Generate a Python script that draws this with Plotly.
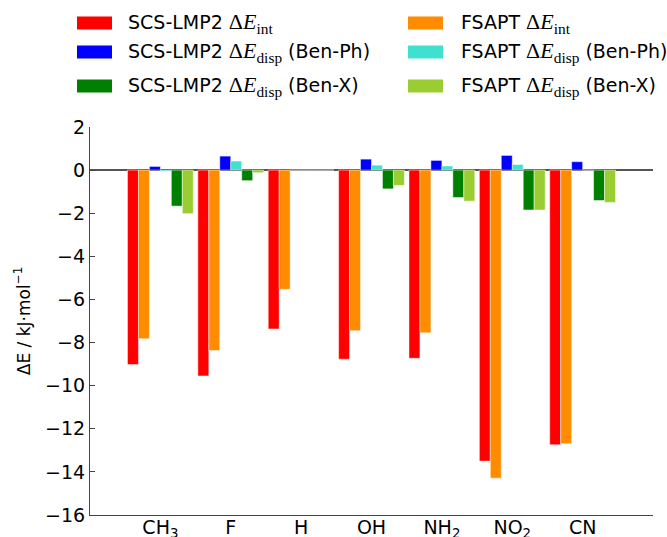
import plotly.graph_objects as go

# Substituents on the benzene ring
substituents = ["CH<sub>3</sub>", "F", "H", "OH", "NH<sub>2</sub>", "NO<sub>2</sub>", "CN"]
positions = [1, 2, 3, 4, 5, 6, 7]

# Interaction energies (kJ/mol)
scs_int = [-9.02, -9.55, -7.37, -8.77, -8.73, -13.50, -12.74]
fsapt_int = [-7.82, -8.37, -5.53, -7.45, -7.55, -14.29, -12.70]
scs_disp_ph = [0.17, 0.65, 0.0, 0.51, 0.45, 0.68, 0.39]
fsapt_disp_ph = [-0.05, 0.42, 0.0, 0.23, 0.19, 0.26, 0.0]
scs_disp_x = [-1.67, -0.49, 0.0, -0.87, -1.27, -1.85, -1.41]
fsapt_disp_x = [-2.02, -0.12, 0.0, -0.71, -1.44, -1.85, -1.50]

y_ticks = [2, 0, -2, -4, -6, -8, -10, -12, -14, -16]

SERIF = "Liberation Serif, DejaVu Serif, serif"
SANS = "DejaVu Sans, sans-serif"


def dE(sub):
    return (f'<span style="font-family:{SERIF};font-size:22px">Δ<i>E</i>'
            f'<sub>{sub}</sub></span>')


series = [
    ("SCS-LMP2 " + dE("int"), scs_int, "#ff0000"),
    ("FSAPT " + dE("int"), fsapt_int, "#ff8c00"),
    ("SCS-LMP2 " + dE("disp") + " (Ben-Ph)", scs_disp_ph, "#0000ff"),
    ("FSAPT " + dE("disp") + " (Ben-Ph)", fsapt_disp_ph, "#40e0d0"),
    ("SCS-LMP2 " + dE("disp") + " (Ben-X)", scs_disp_x, "#008000"),
    ("FSAPT " + dE("disp") + " (Ben-X)", fsapt_disp_x, "#9acd32"),
]

W, H = 667, 537
ML, MR, MT, MB = 90, 14, 127, 22
PW, PH = W - ML - MR, H - MT - MB

fig = go.Figure()
for name, vals, color in series:
    fig.add_trace(go.Bar(
        x=positions, y=vals, name=name,
        marker=dict(color=color, line=dict(color="rgba(255,255,255,0.6)", width=0.8)),
        showlegend=False,
    ))


def px_x(px):
    return (px - ML) / PW


def px_y(py):
    return (H - MB - py) / PH


# Hand-built legend: two columns, three rows
shapes = []
annotations = []
col_swatch = [77, 408]
col_text = [126, 459]
row_y = [23, 52, 86]
for i, (name, vals, color) in enumerate(series):
    c, r = i % 2, i // 2
    shapes.append(dict(
        type="rect", xref="paper", yref="paper",
        x0=px_x(col_swatch[c]), x1=px_x(col_swatch[c] + 35),
        y0=px_y(row_y[r] + 6.5), y1=px_y(row_y[r] - 6.5),
        fillcolor=color, line=dict(width=0),
    ))
    annotations.append(dict(
        text=name, xref="paper", yref="paper",
        x=px_x(col_text[c]), y=px_y(row_y[r]),
        xanchor="left", yanchor="middle", showarrow=False,
        font=dict(family=SANS, size=19, color="#000"),
    ))

fig.update_layout(
    width=W, height=H,
    margin=dict(l=ML, r=MR, t=MT, b=MB, autoexpand=False),
    paper_bgcolor="white", plot_bgcolor="white",
    barmode="group", bargap=0.065, bargroupgap=0,
    font=dict(family=SANS, size=19, color="#000"),
    shapes=shapes, annotations=annotations,
    xaxis=dict(
        range=[0, 8], tickvals=positions, ticktext=substituents,
        showgrid=False, zeroline=False, showline=True,
        linecolor="#444", linewidth=1.2, ticks="", automargin=False,
        tickfont=dict(size=19), ticklabelstandoff=-5,
    ),
    yaxis=dict(
        range=[-16, 2], tickvals=y_ticks,
        ticktext=[str(v).replace("-", "−") for v in y_ticks],
        showgrid=False, showline=True, linecolor="#444", linewidth=1.2,
        ticks="inside", ticklen=5, tickcolor="#444",
        zeroline=True, zerolinecolor="#555", zerolinewidth=2,
        automargin=False, tickfont=dict(size=19),
        title=dict(text="ΔE / kJ·mol<sup>−1</sup>", standoff=10, font=dict(size=17)),
    ),
)

fig.write_html("out.html")
